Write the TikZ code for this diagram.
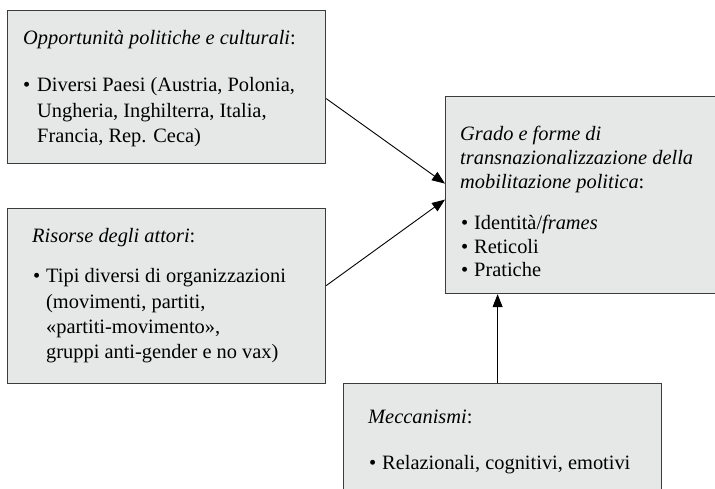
\documentclass[tikz,border=0pt]{standalone}
\usepackage{fontspec}
\setmainfont{Liberation Serif}
\usetikzlibrary{arrows.meta,calc}
\definecolor{boxfill}{HTML}{E6E7E7}
\definecolor{boxline}{HTML}{3C3C3C}
\newcommand{\tfont}{\fontsize{20.4bp}{25bp}\selectfont}
\tikzset{
  box/.style={draw=boxline, fill=boxfill, line width=1.2bp, rectangle, inner sep=0pt, anchor=north west},
  txt/.style={anchor=base west, inner sep=0pt, font=\tfont, text=black},
  arr/.style={-{Triangle[length=13bp,width=10bp]}, line width=0.9bp, draw=black}
}
\begin{document}
\begin{tikzpicture}[x=1bp,y=-1bp]
\path[use as bounding box, clip] (0,0) rectangle (715,489);
% boxes
\node[box, minimum width=318bp, minimum height=153bp] (b1) at (7,10) {};
\node[box, minimum width=318bp, minimum height=175bp] (b2) at (7,208) {};
\node[box, minimum width=280bp, minimum height=197bp] (b3) at (445,96) {};
\node[box, minimum width=318bp, minimum height=120bp] (b4) at (343,383) {};
% box 1 text
\node[txt] (t1a) at (23,45) {\textit{Opportunità politiche e culturali}:};
\node[txt] (t1b) at (23,92) {\textbullet};
\node[txt] (t1c) at (37,92) {Diversi Paesi (Austria, Polonia,};
\node[txt] (t1d) at (37,117.5) {Ungheria, Inghilterra, Italia,};
\node[txt] (t1e) at (37,143) {Francia, Rep. Ceca)};
% box 2 text
\node[txt] (t2a) at (32,243) {\textit{Risorse degli attori}:};
\node[txt] (t2b) at (33,283) {\textbullet};
\node[txt] (t2c) at (46,283) {Tipi diversi di organizzazioni};
\node[txt] (t2d) at (46,308) {(movimenti, partiti,};
\node[txt] (t2e) at (46,333) {«partiti-movimento»,};
\node[txt] (t2f) at (46,358) {gruppi anti-gender e no vax)};
% box 3 text
\node[txt] (t3a) at (460,141) {\textit{Grado e forme di}};
\node[txt] (t3b) at (460,165) {\textit{transnazionalizzazione della}};
\node[txt] (t3c) at (460,189) {\textit{mobilitazione politica}:};
\node[txt] (t3d) at (461,230) {\textbullet};
\node[txt] (t3e) at (474,230) {Identità/\textit{frames}};
\node[txt] (t3f) at (461,253.5) {\textbullet};
\node[txt] (t3g) at (474,253.5) {Reticoli};
\node[txt] (t3h) at (461,277) {\textbullet};
\node[txt] (t3i) at (474,277) {Pratiche};
% box 4 text
\node[txt] (t4a) at (368,423) {\textit{Meccanismi}:};
\node[txt] (t4b) at (369,469) {\textbullet};
\node[txt] (t4c) at (382,469) {Relazionali, cognitivi, emotivi};
% connectors
\draw[arr] ($(b1.east)+(0,11.5)$) -- ($(b3.west)+(0,-11.5)$);
\draw[arr] ($(b2.east)+(0,-10.5)$) -- ($(b3.west)+(0,4.5)$);
\coordinate (a3) at ($(b4.north)+(-5,0)$);
\draw[arr] (a3) -- (a3 |- b3.south);
\end{tikzpicture}
\end{document}
